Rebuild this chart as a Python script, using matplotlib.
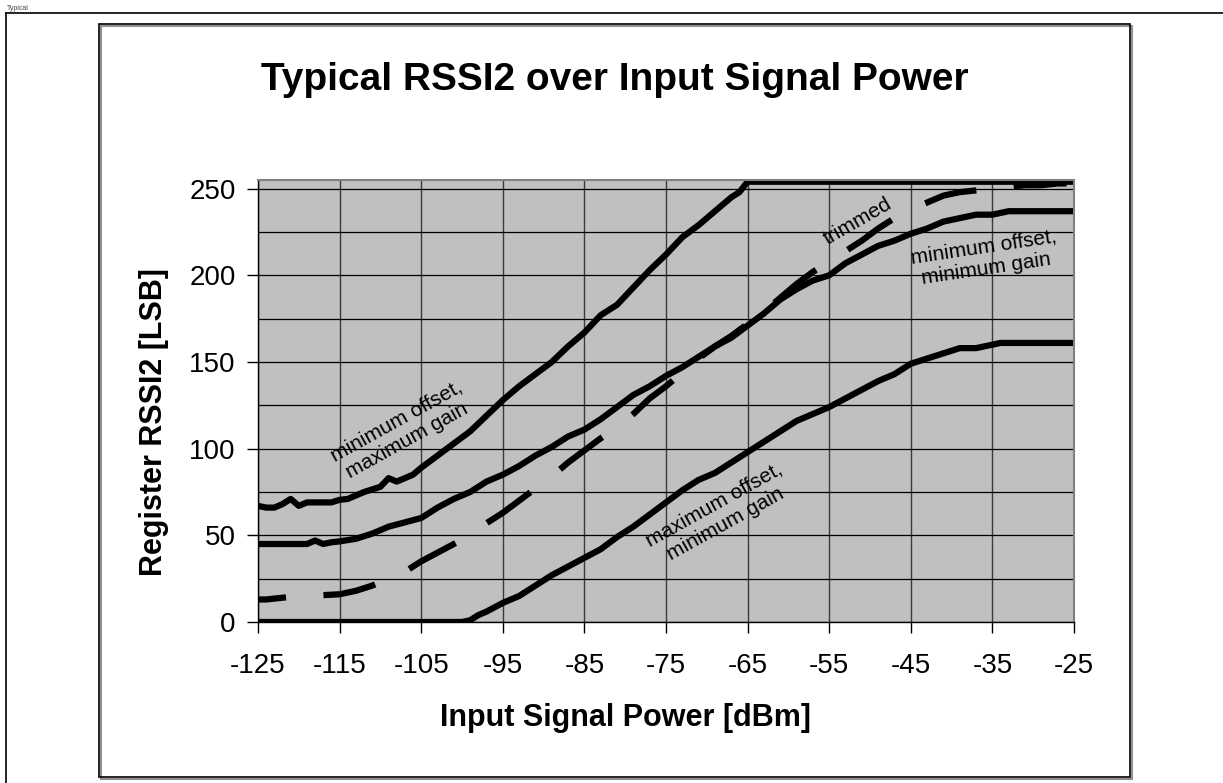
import matplotlib
matplotlib.use('Agg')
import matplotlib.pyplot as plt
from matplotlib.patches import Rectangle
from matplotlib.lines import Line2D

plt.rcParams['font.family'] = ['Liberation Sans', 'DejaVu Sans']
plt.rcParams['axes.unicode_minus'] = False

# input signal power [dBm] vs. register RSSI2 [LSB]
x_minoff_maxgain = [-125, -124, -123, -122, -121, -120, -119, -118, -116, -115, -114, -113, -112,
                    -110, -109, -108, -107, -106, -105, -103, -101, -99, -97, -95, -93, -91, -89,
                    -87, -85, -83, -81, -79, -77, -75, -73, -71, -69, -67, -66, -65, -25]
y_minoff_maxgain = [67, 66, 66, 68, 71, 67, 69, 69, 69, 70.5, 71, 73, 75,
                    78, 83, 81, 83, 85, 89, 96, 103, 110, 119, 128, 136, 143, 150,
                    159, 167, 177, 183, 193, 203, 212, 222, 229, 237, 245, 248, 254, 254]

x_trimmed = [-125, -124, -123, -122, -121, -117, -115, -113, -111, -109, -107, -105, -103, -101,
             -99, -97, -95, -93, -91, -89, -87, -85, -83, -81, -79, -77, -75, -73, -71, -69,
             -67, -65, -63, -61, -59, -57, -55, -53, -51, -49, -47, -45, -43, -41, -39, -37,
             -35, -33, -31, -29, -27, -25]
y_trimmed = [13, 13, 13.5, 14, 14.5, 15.5, 16, 18, 21, 25, 29, 35, 40, 45,
             50, 57, 63, 70, 77, 84, 92, 99, 106, 112, 120, 129, 136, 144, 152, 159,
             165, 172, 179, 187, 195, 202, 208, 214, 220, 227, 233, 238, 242, 246, 248, 249,
             250, 251, 252, 252, 253, 253]

x_minoff_mingain = [-125, -123, -121, -119, -118, -117, -116, -115, -113, -111, -109, -107, -105,
                    -103, -101, -99, -97, -95, -93, -91, -89, -87, -85, -83, -81, -79, -77, -75,
                    -73, -71, -69, -67, -65, -63, -61, -59, -57, -55, -53, -51, -49, -47, -45,
                    -43, -41, -39, -37, -35, -33, -25]
y_minoff_mingain = [45, 45, 45, 45, 47, 45, 46, 46.5, 48, 51, 55, 57.5, 60,
                    66, 71, 75, 81, 85, 90, 96, 101, 107, 111, 117, 124, 131, 136, 142,
                    147, 153, 159, 164, 171, 178, 186, 192, 197, 200, 207, 212, 217, 220, 224,
                    227, 231, 233, 235, 235, 237, 237]

x_maxoff_mingain = [-125, -100, -99, -98, -97, -95, -93, -91, -89, -87, -85, -83, -81, -79, -77,
                    -75, -73, -71, -69, -67, -65, -63, -61, -59, -57, -55, -53, -51, -49, -47,
                    -45, -43, -41, -39, -37, -35, -34, -25]
y_maxoff_mingain = [0, 0, 1, 4, 6, 11, 15, 21, 27, 32, 37, 42, 49, 55, 62,
                    69, 76, 82, 86, 92, 98, 104, 110, 116, 120, 124, 129, 134, 139, 143,
                    149, 152, 155, 158, 158, 160, 161, 161]

W, H = 1223, 783
fig = plt.figure(figsize=(W / 100, H / 100), dpi=100)

# page frame and chart border
fig.add_artist(Line2D([6 / W, 1], [1 - 13 / H, 1 - 13 / H], color='black', lw=1.2))
fig.add_artist(Line2D([6 / W, 6 / W], [1 - 13 / H, 0], color='black', lw=1.2))
fig.add_artist(Rectangle((101 / W, 1 - 779 / H), 1031 / W, 753 / H, fill=False, ec='#909090', lw=1.5))
fig.add_artist(Rectangle((99 / W, 1 - 777 / H), 1031 / W, 753 / H, fill=False, ec='black', lw=1.2))
fig.text(7 / W, 1 - 8 / H, 'Typical', fontsize=5, color='#444444', ha='left', va='center')

ax = fig.add_axes([258 / W, 1 - 622 / H, 816 / W, 442 / H])
ax.set_facecolor('#c0c0c0')
ax.set_xlim(-125, -25)
ax.set_ylim(0, 255)
ax.set_xticks(range(-125, -24, 10))
ax.set_yticks(range(0, 251, 50))
ax.set_yticks(range(25, 251, 50), minor=True)
ax.tick_params(axis='both', which='major', direction='out', length=8, width=1, labelsize=20)
ax.tick_params(axis='x', which='major', pad=14.5)
ax.tick_params(axis='y', which='major', pad=8)
ax.tick_params(axis='y', which='minor', length=0)
ax.grid(axis='x', color='#3a3a3a', lw=1.0)
ax.grid(axis='y', which='both', color='black', lw=0.9)
ax.set_axisbelow(True)
for s in ['left', 'bottom']:
    ax.spines[s].set_color('black')
    ax.spines[s].set_linewidth(1.0)
for s in ['top', 'right']:
    ax.spines[s].set_color('#808080')
    ax.spines[s].set_linewidth(1.5)

solid = dict(color='black', lw=4.5, solid_joinstyle='round', solid_capstyle='butt')
ax.plot(x_minoff_maxgain, y_minoff_maxgain, **solid)
ax.plot(x_minoff_mingain, y_minoff_mingain, **solid)
ax.plot(x_maxoff_mingain, y_maxoff_mingain, **solid)
ax.plot(x_trimmed, y_trimmed, color='black', lw=4.5, linestyle=(4, (8.5, 6)), dash_capstyle='butt')

lbl = dict(fontsize=15, ha='center', va='center', rotation_mode='anchor', multialignment='center')
ax.text(-107.4, 110, 'minimum offset,\nmaximum gain', rotation=29, **lbl)
ax.text(-51.5, 231, 'trimmed', rotation=30, **lbl)
ax.text(-35.9, 210, 'minimum offset,\nminimum gain', rotation=8.5, **lbl)
ax.text(-68.4, 62, 'maximum offset,\nminimum gain', rotation=29, **lbl)

fig.text(615 / W, 1 - 80 / H, 'Typical RSSI2 over Input Signal Power', fontsize=28, weight='bold',
         ha='center', va='center')
fig.text(154 / W, 1 - 422 / H, 'Register RSSI2 [LSB]', fontsize=22, weight='bold', rotation=90,
         ha='center', va='center')
fig.text(625 / W, 1 - 718 / H, 'Input Signal Power [dBm]', fontsize=22, weight='bold',
         ha='center', va='center')

fig.savefig('out.png', dpi=100)
